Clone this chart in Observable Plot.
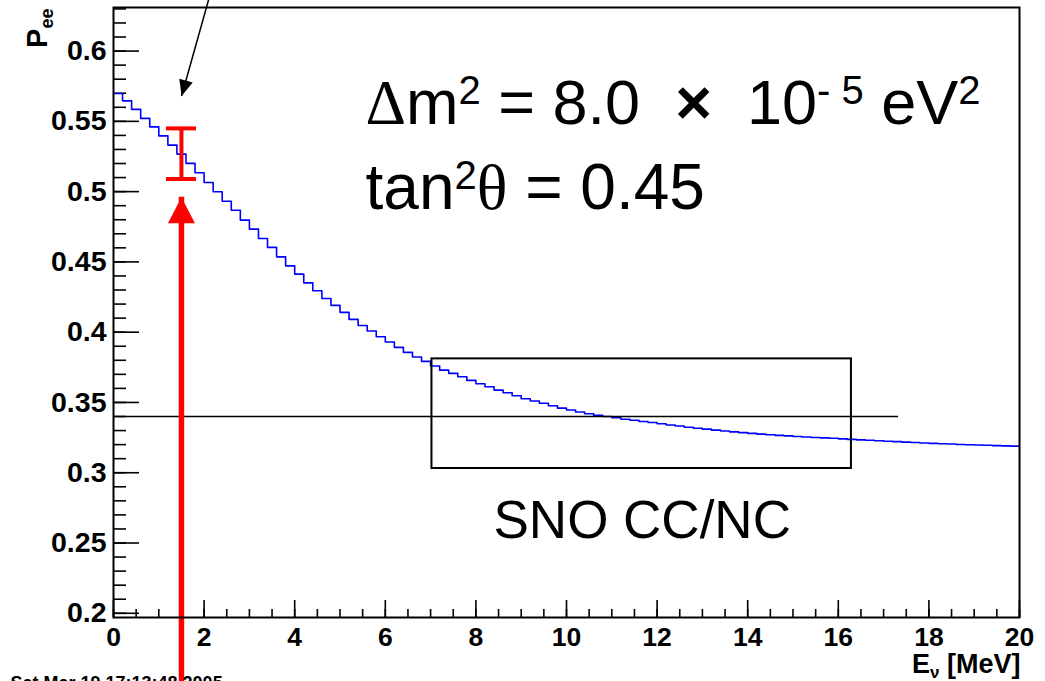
<!DOCTYPE html>
<html><head><meta charset="utf-8">
<script src="https://cdn.jsdelivr.net/npm/d3@7"></script>
<script src="https://cdn.jsdelivr.net/npm/@observablehq/plot@0.6"></script>
<style>body{margin:0;background:#fff;overflow:hidden}</style>
</head><body><div id="chart"></div>
<script>
// Survival probability P_ee per 0.2 MeV bin (bins 0..99, 0–20 MeV)
const peeValues = [
  0.5698,0.5646,0.5585,0.5521,0.5461,0.5397,0.5331,0.5267,0.5201,0.5134,
  0.5065,0.4999,0.4932,0.4868,0.4797,0.4733,0.4667,0.4603,0.4536,0.4472,
  0.4413,0.4351,0.4295,0.4240,0.4191,0.4141,0.4091,0.4048,0.4008,0.3967,
  0.3930,0.3892,0.3856,0.3823,0.3792,0.3759,0.3730,0.3707,0.3683,0.3657,
  0.3633,0.3612,0.3588,0.3569,0.3548,0.3526,0.3510,0.3494,0.3477,0.3460,
  0.3446,0.3432,0.3420,0.3408,0.3400,0.3391,0.3380,0.3373,0.3365,0.3357,
  0.3348,0.3340,0.3332,0.3324,0.3317,0.3310,0.3303,0.3297,0.3291,0.3285,
  0.3280,0.3275,0.3270,0.3266,0.3262,0.3258,0.3254,0.3251,0.3248,0.3245,
  0.3241,0.3237,0.3234,0.3231,0.3228,0.3224,0.3221,0.3218,0.3215,0.3212,
  0.3209,0.3206,0.3204,0.3201,0.3199,0.3197,0.3195,0.3193,0.3191,0.3189
];
const binWidth = 0.2;

const xMajorTicks = [0,2,4,6,8,10,12,14,16,18,20];
const xMinorTicks = d3.range(0, 20.001, 0.5);
const yMajorTicks = [0.2,0.25,0.3,0.35,0.4,0.45,0.5,0.55,0.6];
const yMinorTicks = d3.range(20, 64).map(d => d / 100);

// annotations
const ccncLevel = [0.34];
const ccncLineEnd = 17.33;
const snoBox = [{x1: 7.03, x2: 16.29, y1: 0.303, y2: 0.381}];
const measurement = [{E: 1.5, lo: 0.509, hi: 0.545}];
const redArrow = [{E: 1.5, from: 0.14, tip: 0.496}];
const pointer = [{E1: 2.13, P1: 0.64, E2: 1.503, P2: 0.568}];

const labelDm = "Δm2 = 8.0  ×  10- 5 eV2";
const labelTan = "tan2θ = 0.45";
const labelSno = "SNO CC/NC";
const labelX = "Eν [MeV]";
const labelY = "Pee";
const labelDate = "Sat Mar 19 17:13:48 2005";

const histPoints = peeValues.map((v, i) => ({E: i * binWidth, P: v}))
  .concat([{E: peeValues.length * binWidth, P: peeValues[peeValues.length - 1]}]);

const triangleShape = {
  draw(context, l, r) {
    context.moveTo(-r, 0);
    context.lineTo(0, -l);
    context.lineTo(r, 0);
    context.closePath();
  }
};

const W = 1045, H = 681, mL = 113, mR = 26, mT = 7, mB = 64;
const frameW = W - mL - mR, frameH = H - mT - mB;

const chart = Plot.plot({
  width: W, height: H,
  marginLeft: mL, marginRight: mR, marginTop: mT, marginBottom: mB,
  style: {fontFamily: "'Liberation Sans', Arial, sans-serif", background: "white", color: "black", overflow: "visible"},
  x: {domain: [0, 20]},
  y: {domain: [0.197, 0.631]},
  marks: [
    Plot.tickY(yMinorTicks, {y: d => d, insetRight: frameW - 13, stroke: "black", strokeWidth: 1.6}),
    Plot.tickY(yMajorTicks, {y: d => d, insetRight: frameW - 26, stroke: "black", strokeWidth: 1.6}),
    Plot.tickX(xMinorTicks, {x: d => d, insetTop: frameH - 8, stroke: "black", strokeWidth: 1.6}),
    Plot.tickX(xMajorTicks, {x: d => d, insetTop: frameH - 17, stroke: "black", strokeWidth: 1.6}),
    Plot.axisY(yMajorTicks, {tickSize: 0, tickPadding: 7, fontSize: 28.5, fontWeight: "bold", label: null, tickFormat: d => String(d)}),
    Plot.axisX(xMajorTicks, {tickSize: 0, tickPadding: 10, fontSize: 26.5, fontWeight: "bold", label: null, tickFormat: d => String(d)}),
    Plot.line(histPoints, {x: "E", y: "P", curve: "step-after", stroke: "#0000ff", strokeWidth: 1.6}),
    Plot.ruleY(ccncLevel, {y: d => d, x1: 0, x2: ccncLineEnd, stroke: "black", strokeWidth: 1.6}),
    Plot.rect(snoBox, {x1: "x1", x2: "x2", y1: "y1", y2: "y2", fill: "none", stroke: "black", strokeWidth: 2}),
    Plot.link(pointer, {x1: "E1", y1: "P1", x2: "E2", y2: "P2", stroke: "black", strokeWidth: 1.5}),
    Plot.vector(pointer, {x: "E2", y: "P2", anchor: "end", length: 16, r: 7, rotate: 196, shape: triangleShape, fill: "black", stroke: "none"}),
    Plot.ruleX(measurement, {x: "E", y1: "lo", y2: "hi", stroke: "red", strokeWidth: 4}),
    Plot.ruleY(measurement, {y: "lo", x1: "E", x2: "E", insetLeft: -15, insetRight: -15, stroke: "red", strokeWidth: 4}),
    Plot.ruleY(measurement, {y: "hi", x1: "E", x2: "E", insetLeft: -15, insetRight: -15, stroke: "red", strokeWidth: 4}),
    Plot.ruleX(redArrow, {x: "E", y1: "from", y2: "tip", insetTop: 22, stroke: "red", strokeWidth: 5.5}),
    Plot.vector(redArrow, {x: "E", y: "tip", anchor: "end", length: 26, r: 13.5, shape: triangleShape, fill: "red", stroke: "none"}),
    Plot.text([labelDm], {text: d => d, frameAnchor: "top-left", dx: 252, dy: 116, lineAnchor: "bottom", textAnchor: "start", fontSize: 63}),
    Plot.text([labelTan], {text: d => d, frameAnchor: "top-left", dx: 252, dy: 201, lineAnchor: "bottom", textAnchor: "start", fontSize: 64}),
    Plot.text([labelSno], {text: d => d, frameAnchor: "top-left", dx: 380, dy: 530, lineAnchor: "bottom", textAnchor: "start", fontSize: 53}),
    Plot.text([labelX], {text: d => d, frameAnchor: "bottom-right", dx: 1, dy: 55, lineAnchor: "bottom", textAnchor: "end", fontSize: 27, fontWeight: "bold"}),
    Plot.text([labelY], {text: d => d, frameAnchor: "top-left", dx: -67, dy: 1, lineAnchor: "bottom", textAnchor: "end", rotate: -90, fontSize: 29, fontWeight: "bold"}),
    Plot.text([labelDate], {text: d => d, frameAnchor: "bottom-left", dx: -103, dy: 71, lineAnchor: "bottom", textAnchor: "start", fontSize: 18, fontWeight: "bold"}),
    Plot.frame({stroke: "black", strokeWidth: 2})
  ]
});

function richText(svg, match, parts) {
  const t = [...svg.querySelectorAll("text")].find(e => e.textContent === match);
  if (!t) return;
  t.textContent = "";
  t.style.whiteSpace = "pre";
  let shift = 0;
  for (const p of parts) {
    const ts = document.createElementNS("http://www.w3.org/2000/svg", "tspan");
    ts.textContent = p.text;
    const target = p.dy || 0;
    if (target !== shift) ts.setAttribute("dy", target - shift);
    shift = target;
    if (p.size) ts.setAttribute("font-size", p.size);
    if (p.family) ts.setAttribute("font-family", p.family);
    if (p.weight) ts.setAttribute("font-weight", p.weight);
    t.appendChild(ts);
  }
}
const serif = "'Liberation Serif', 'DejaVu Serif', serif";
richText(chart, labelDm, [
  {text: "Δ", family: serif}, {text: "m"}, {text: "2", size: 40, dy: -20},
  {text: " = 8.0  "}, {text: "×", weight: "bold"}, {text: "  10"}, {text: "- 5", size: 40, dy: -20}, {text: " eV"}, {text: "2", size: 40, dy: -20}
]);
richText(chart, labelTan, [
  {text: "tan"}, {text: "2", size: 40, dy: -20}, {text: "θ", family: serif}, {text: " = 0.45"}
]);
richText(chart, labelX, [{text: "E"}, {text: "ν", size: 17, dy: 5}, {text: " [MeV]"}]);
richText(chart, labelY, [{text: "P"}, {text: "ee", size: 18, dy: 6}]);

document.getElementById("chart").appendChild(chart);
</script>
</body></html>
